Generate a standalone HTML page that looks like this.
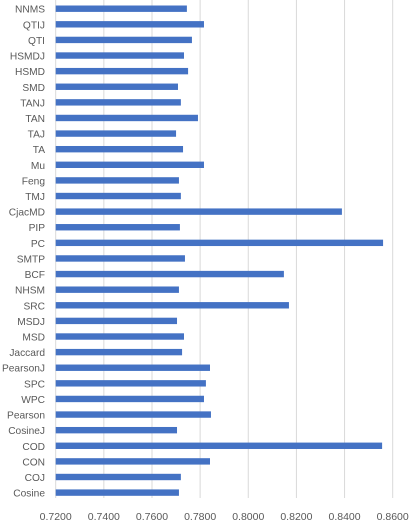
<!DOCTYPE html>
<html><head><meta charset="utf-8"><style>
body{margin:0;background:#fff;}
svg{display:block;font-family:"Liberation Sans",sans-serif;}
</style></head><body>
<svg id="chart" width="412" height="524" viewBox="0 0 412 524"></svg>
<script>
const categories=["NNMS","QTIJ","QTI","HSMDJ","HSMD","SMD","TANJ","TAN","TAJ","TA","Mu","Feng","TMJ","CjacMD","PIP","PC","SMTP","BCF","NHSM","SRC","MSDJ","MSD","Jaccard","PearsonJ","SPC","WPC","Pearson","CosineJ","COD","CON","COJ","Cosine"];
const values=[0.7745,0.7816,0.7766,0.7733,0.7750,0.7708,0.7720,0.7791,0.7700,0.7729,0.7816,0.7712,0.7720,0.8389,0.7716,0.8560,0.7737,0.8148,0.7712,0.8169,0.7704,0.7733,0.7725,0.7841,0.7824,0.7816,0.7845,0.7704,0.8556,0.7841,0.7720,0.7712];
const ticks=[0.72,0.74,0.76,0.78,0.80,0.82,0.84,0.86];
const xMin=0.72,xMax=0.86,px0=55.7,px1=392.7;
function xs(v){return px0+(v-xMin)/(xMax-xMin)*(px1-px0);}
const y0=8.7,step=15.61;
function ys(i){return y0+i*step;}
const svg=document.getElementById('chart');
const NS="http://www.w3.org/2000/svg";
function mk(t,a){const e=document.createElementNS(NS,t);for(const k in a)e.setAttribute(k,a[k]);svg.appendChild(e);return e;}
ticks.forEach(t=>{
  const l=mk('line',{x1:xs(t),x2:xs(t),y1:0,y2:498,stroke:'#d9d9d9','stroke-width':1});
  
  
  const tx=mk('text',{x:xs(t),y:520,'text-anchor':'middle','font-size':10.5,fill:'#595959'});
  tx.textContent=t.toFixed(4);
  
  
});
categories.forEach((c,i)=>{
  const y=ys(i);
  const r=mk('rect',{x:xs(xMin),y:y-3.2,width:xs(values[i])-xs(xMin),height:6.4,fill:'#4472c4'});
  
  
  const t=mk('text',{x:45,y:y+4,'text-anchor':'end','font-size':10.2,fill:'#595959'});
  t.textContent=c;
  
  
});
</script>
</body></html>
